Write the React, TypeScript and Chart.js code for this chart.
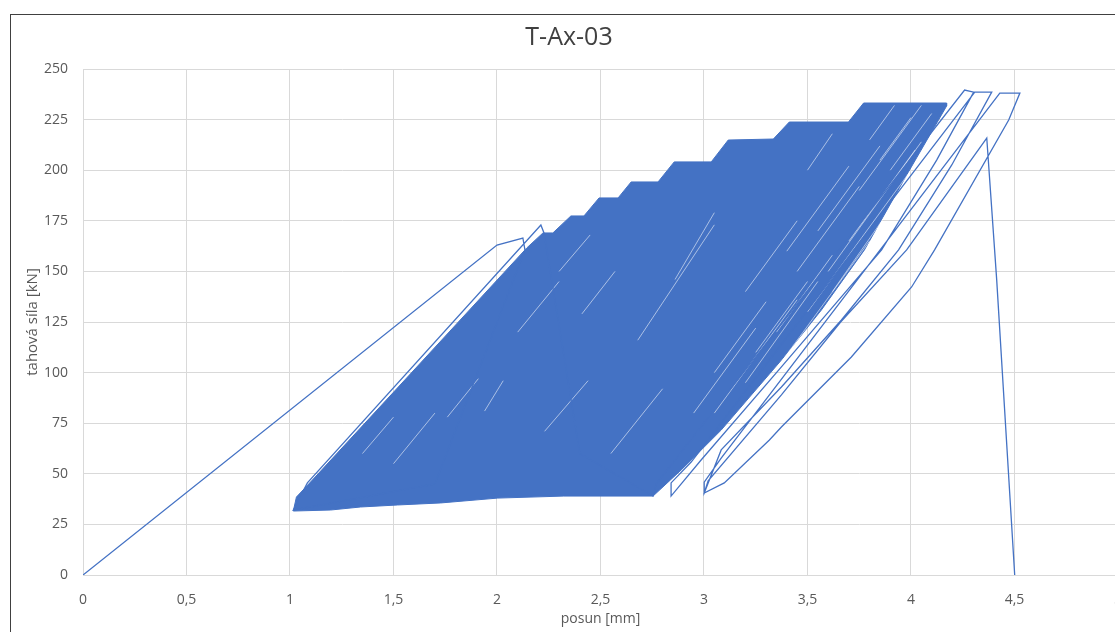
import React, { useEffect, useRef } from 'react';
import { Chart, registerables } from 'chart.js';

Chart.register(...registerables);

const chartTitle = 'T-Ax-03';
const xAxisTitle = 'posun [mm]';
const yAxisTitle = 'tahová síla [kN]';
const xTickLabels = ['0', '0,5', '1', '1,5', '2', '2,5', '3', '3,5', '4', '4,5', '5'];

// visible trace: first loading, first cycles, last cycles and failure
const traceX = [
  0, 2.0, 2.125, 2.135, 1.7, 1.016, 1.084, 2.212, 2.227, 2.4, 2.754,
  2.769, 4.259, 4.303, 4.124, 3.858, 3.374, 2.986, 2.841,
  2.841, 2.938, 4.308, 4.39, 4.197, 3.94, 3.664, 3.374, 3.083, 3.001,
  3.001, 3.083, 4.429, 4.526, 4.472, 4.114, 4.003, 3.712, 3.374, 3.316, 3.098, 3.001,
  3.02, 3.374, 3.66, 3.979, 4.366, 4.414, 4.501,
];
const traceY = [
  0, 163.0, 166.5, 160.6, 45.0, 32.1, 45.5, 172.9, 169.0, 60.0, 39.0,
  45.0, 239.6, 238.6, 205.0, 160.6, 102.8, 56.8, 39.0,
  45.5, 55.8, 238.6, 238.6, 202.6, 160.6, 126.0, 92.9, 61.8, 40.5,
  45.9, 57.8, 238.1, 238.1, 224.8, 160.6, 142.3, 107.7, 73.1, 66.7, 45.5, 40.5,
  46.5, 89.0, 125.0, 160.6, 215.9, 145.8, 0,
];

// outline of the dense band of repeated cycles
const bandX = [
  1.016, 1.031, 1.108, 2.144, 2.222, 2.27, 2.357, 2.42, 2.493, 2.585, 2.648, 2.778,
  2.856, 3.035, 3.117, 3.335, 3.412, 3.698, 3.771, 4.172,
  4.172, 3.979, 3.775, 3.567, 3.374, 3.083, 2.89, 2.754,
  2.323, 2.004, 1.728, 1.52, 1.341, 1.196,
];
const bandY = [
  31.6, 38.5, 46.9, 161.6, 169.0, 169.0, 177.4, 177.4, 186.3, 186.3, 194.2, 194.2,
  204.1, 204.1, 214.9, 215.4, 223.8, 223.8, 233.2, 233.2,
  231.7, 197.6, 160.6, 130.9, 106.2, 71.6, 51.9, 39.0,
  39.0, 38.0, 35.6, 34.6, 33.6, 32.1,
];

// light gaps between the overlapping loops inside the band (start/end pairs)
const gapX1 = [
  3.30, 3.50, 3.60, 3.20, 3.75, 3.05, 2.95, 3.40, 3.85, 3.20, 2.68, 2.86, 2.41, 1.76, 1.94, 2.23, 1.50, 2.55, 3.62, 3.95,
  3.45, 3.55, 3.70, 3.35, 3.90, 3.25, 3.80, 3.50, 3.05, 3.15, 2.90, 3.00, 3.62, 2.10, 1.35, 2.30,
];
const gapY1 = [
  95, 130, 150, 95, 190, 80, 80, 160, 205, 140, 116, 146, 129, 78, 81, 71, 55, 60, 112, 180,
  150, 170, 165, 120, 200, 110, 215, 200, 100, 60, 45, 50, 140, 120, 60, 150,
];
const gapX2 = [
  3.80, 4.00, 4.05, 3.55, 4.05, 3.45, 3.25, 3.70, 4.00, 3.45, 3.05, 3.05, 2.57, 1.91, 2.03, 2.44, 1.70, 2.80, 3.98, 4.12,
  3.75, 3.85, 4.02, 3.62, 4.10, 3.50, 3.92, 3.62, 3.30, 3.40, 3.10, 3.25, 3.88, 2.30, 1.50, 2.45,
];
const gapY2 = [
  165, 200, 214, 145, 232, 136, 122, 202, 226, 175, 173, 179, 150, 97, 96, 96, 80, 92, 165, 208,
  192, 212, 210, 158, 228, 145, 232, 218, 135, 95, 72, 85, 178, 145, 78, 168,
];

const BLUE = '#4472C4';
const TEXT = '#595959';
const GRID = '#d9d9d9';
const FONT = "'Open Sans', 'Liberation Sans', sans-serif";

export default function App() {
  const ref = useRef<HTMLCanvasElement | null>(null);

  useEffect(() => {
    if (!ref.current) return;
    const trace = traceX.map((x, i) => ({ x, y: traceY[i] }));
    const band = bandX.map((x, i) => ({ x, y: bandY[i] }));
    band.push({ x: bandX[0], y: bandY[0] });
    const gaps: any[] = [];
    gapX1.forEach((x, i) => {
      gaps.push({ x, y: gapY1[i] });
      gaps.push({ x: gapX2[i], y: gapY2[i] });
      gaps.push({ x: gapX2[i], y: null });
    });

    const chart = new Chart(ref.current, {
      type: 'line',
      data: {
        datasets: [
          {
            data: trace,
            borderColor: BLUE,
            borderWidth: 1.3,
            pointRadius: 0,
            fill: false,
            tension: 0,
            order: 0,
          },
          {
            data: gaps,
            borderColor: 'rgba(255,255,255,0.55)',
            borderWidth: 1,
            pointRadius: 0,
            fill: false,
            spanGaps: false,
            tension: 0,
            order: 1,
          },
          {
            data: band,
            borderColor: BLUE,
            backgroundColor: BLUE,
            borderWidth: 1,
            pointRadius: 0,
            fill: 'shape',
            tension: 0,
            order: 2,
          },
        ],
      },
      options: {
        animation: false,
        responsive: false,
        devicePixelRatio: 1,
        layout: { padding: { left: 0, right: 1, top: 0, bottom: 24 } },
        plugins: {
          legend: { display: false },
          tooltip: { enabled: false },
          title: {
            display: true,
            text: chartTitle,
            color: '#404040',
            font: { family: FONT, size: 25, weight: 'normal' },
            padding: { top: 8, bottom: 16 },
          },
        },
        scales: {
          x: {
            type: 'linear',
            min: 0,
            max: 5,
            afterFit: (s: any) => { s.height = 56; },
            ticks: {
              stepSize: 0.5,
              color: TEXT,
              padding: 6,
              maxRotation: 0,
              autoSkip: false,
              font: { family: FONT, size: 14 },
              callback: (_v: any, i: number) => xTickLabels[i],
            },
            grid: { color: GRID, drawTicks: true, tickLength: 11, tickColor: 'rgba(0,0,0,0)' },
            border: { color: GRID },
            title: {
              display: true,
              text: xAxisTitle,
              color: TEXT,
              font: { family: FONT, size: 14 },
              padding: { top: 4, bottom: 4 },
            },
          },
          y: {
            type: 'linear',
            min: 0,
            max: 250,
            afterFit: (s: any) => { s.width = 72; },
            ticks: {
              stepSize: 25,
              color: TEXT,
              padding: 15,
              font: { family: FONT, size: 14 },
            },
            grid: { color: GRID, drawTicks: false },
            border: { color: GRID },
            title: {
              display: true,
              text: yAxisTitle,
              color: TEXT,
              font: { family: FONT, size: 15 },
              padding: { top: 13, bottom: 0 },
            },
          },
        },
      },
    });
    return () => chart.destroy();
  }, []);

  return (
    <div style={{ position: 'fixed', left: 0, top: 0, width: 1115, height: 632, overflow: 'hidden', background: '#fff' }}>
      <div style={{ position: 'absolute', left: 10, top: 14, width: 1117, height: 640, border: '1px solid #404040', background: '#fff' }}>
        <canvas ref={ref} width={1117} height={640} style={{ display: 'block', width: 1117, height: 640 }} />
      </div>
    </div>
  );
}
